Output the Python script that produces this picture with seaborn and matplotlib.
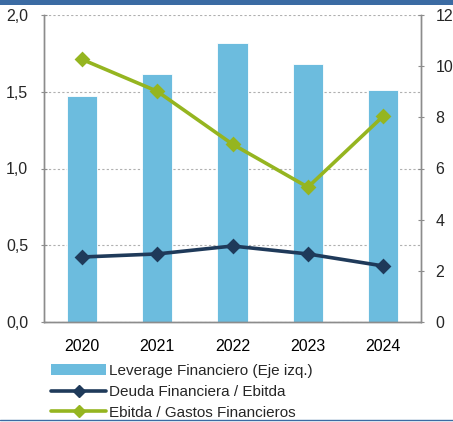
import matplotlib
matplotlib.use("Agg")
import matplotlib.pyplot as plt
from matplotlib.lines import Line2D
from matplotlib.patches import Patch, Rectangle
import seaborn as sns
import pandas as pd

years = ["2020", "2021", "2022", "2023", "2024"]
leverage = [1.47, 1.615, 1.82, 1.68, 1.51]
deuda_ebitda = [2.54, 2.66, 2.97, 2.66, 2.19]
ebitda_gastos = [10.27, 9.02, 6.95, 5.27, 8.05]
left_ticks = [0.0, 0.5, 1.0, 1.5, 2.0]
left_labels = ["0,0", "0,5", "1,0", "1,5", "2,0"]
right_ticks = [0, 2, 4, 6, 8, 10, 12]

bar_color = "#6cbcde"
dark_color = "#1f3a5a"
green_color = "#95b520"
band_color = "#3b6ba3"
axis_gray = "#8c8c8c"

df = pd.DataFrame({"year": years, "leverage": leverage,
                   "deuda": deuda_ebitda, "ebitda": ebitda_gastos})

sns.set_style("white")
plt.rcParams["font.family"] = ["Liberation Sans", "DejaVu Sans"]

fig = plt.figure(figsize=(4.53, 4.22), dpi=100)
ax = fig.add_axes([44 / 453, 1 - 322 / 422, (421 - 44) / 453, (322 - 15) / 422])

sns.barplot(data=df, x="year", y="leverage", color=bar_color, width=0.4,
            edgecolor="white", linewidth=0.6, saturation=1, ax=ax, zorder=2)
ax.set_ylim(0, 2.0)
ax.set_xlim(-0.5, 4.5)
ax.set_yticks(left_ticks)
ax.set_yticklabels(left_labels)
ax.yaxis.grid(True, linestyle=(0, (2, 2)), color="#b0b0b0", linewidth=0.8, zorder=0)
ax.set_axisbelow(True)
ax.set_xlabel("")
ax.set_ylabel("")

ax2 = ax.twinx()
sns.pointplot(data=df, x="year", y="deuda", color=dark_color, markers="D",
              errorbar=None, ax=ax2, markersize=6, linewidth=2.6)
sns.pointplot(data=df, x="year", y="ebitda", color=green_color, markers="D",
              errorbar=None, ax=ax2, markersize=6, linewidth=2.6)
ax2.set_ylim(0, 12)
ax2.set_xlim(-0.5, 4.5)
ax2.set_yticks(right_ticks)
ax2.set_ylabel("")
ax2.set_xlabel("")
ax2.grid(False)

for a in (ax, ax2):
    a.spines["top"].set_visible(False)
    for side in ("left", "right", "bottom"):
        a.spines[side].set_color(axis_gray)
        a.spines[side].set_linewidth(1.0)

# category boundary ticks on x axis, labels centred on categories
ax.set_xticks([i for i in range(5)])
ax.set_xticklabels(years)
ax.tick_params(axis="x", length=0, pad=12, labelsize=11.5, labelcolor="black")
ax.set_xticks([i - 0.5 for i in range(6)], minor=True)
ax.tick_params(axis="x", which="minor", length=4, color=axis_gray, direction="out")
ax.tick_params(axis="y", length=5, color=axis_gray, direction="inout", labelsize=11.5, pad=9)
ax2.tick_params(axis="y", length=5, color=axis_gray, direction="inout", labelsize=11.5, pad=8)
ax2.tick_params(axis="x", length=0)

handles = [
    Patch(facecolor=bar_color, edgecolor="none"),
    Line2D([], [], color=dark_color, lw=2.6, marker="D", markersize=6),
    Line2D([], [], color=green_color, lw=2.6, marker="D", markersize=6),
]
labels = ["Leverage Financiero (Eje izq.)", "Deuda Financiera / Ebitda",
          "Ebitda / Gastos Financieros"]
fig.legend(handles, labels, loc="upper left", bbox_to_anchor=(51 / 453, 1 - 364 / 422),
           frameon=False, fontsize=11, handlelength=3.6, handletextpad=0.2,
           labelspacing=0.45, borderaxespad=0, borderpad=0)

# header band and footer rule
fig.add_artist(Rectangle((0, 1 - 5 / 422), 1, 5 / 422, transform=fig.transFigure,
                         color=band_color, lw=0))
fig.add_artist(Line2D([0, 1], [1 - 420 / 422] * 2, transform=fig.transFigure,
                      color=band_color, lw=1.0))

fig.savefig("out.png", dpi=100)
